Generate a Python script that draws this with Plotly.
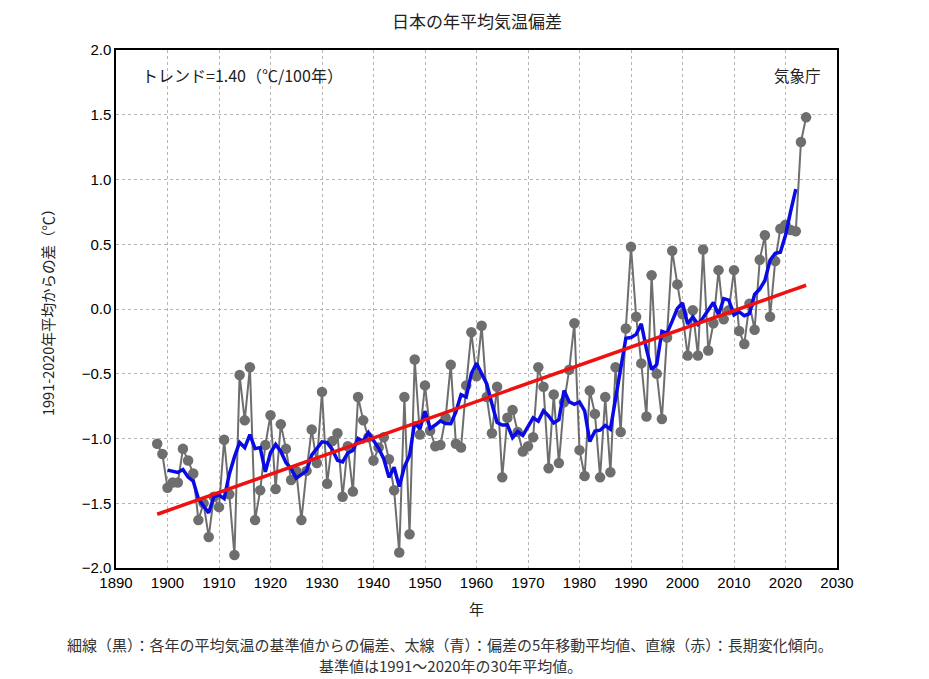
import numpy as np
import pandas as pd
import plotly.graph_objects as go

# 日本の年平均気温偏差 (1991-2020年平均からの差, ℃), 図から読み取り
years = list(range(1898, 2025))
anomaly = [
    -1.04, -1.12, -1.38, -1.34, -1.34, -1.08, -1.17, -1.27, -1.63, -1.50,  # 1898-1907
    -1.76, -1.45, -1.53, -1.01, -1.43, -1.90, -0.51, -0.86, -0.45, -1.63,  # 1908-1917
    -1.40, -1.05, -0.82, -1.39, -0.89, -1.08, -1.32, -1.25, -1.63, -1.25,  # 1918-1927
    -0.93, -1.19, -0.64, -1.35, -1.02, -0.96, -1.45, -1.06, -1.41, -0.68,  # 1928-1937
    -0.86, -0.99, -1.17, -1.07, -0.99, -1.16, -1.40, -1.88, -0.68, -1.74,  # 1938-1947
    -0.39, -0.97, -0.59, -0.94, -1.06, -1.05, -0.84, -0.43, -1.04, -1.07,  # 1948-1957
    -0.59, -0.18, -0.52, -0.13, -0.68, -0.96, -0.60, -1.30, -0.84, -0.78,  # 1958-1967
    -0.95, -1.10, -1.06, -0.99, -0.45, -0.60, -1.23, -0.66, -1.19, -0.72,  # 1968-1977
    -0.47, -0.11, -1.09, -1.29, -0.63, -0.81, -1.30, -0.68, -1.26, -0.45,  # 1978-1987
    -0.95, -0.15, 0.48, -0.06, -0.42, -0.83, 0.26, -0.50, -0.85, -0.22,    # 1988-1997
    0.45, 0.19, -0.04, -0.36, -0.01, -0.36, 0.46, -0.32, -0.11, 0.30,      # 1998-2007
    -0.08, -0.01, 0.30, -0.17, -0.27, 0.04, -0.16, 0.38, 0.57, -0.06,      # 2008-2017
    0.37, 0.62, 0.65, 0.61, 0.60, 1.29, 1.48,                              # 2018-2024
]

x_ticks = list(range(1890, 2031, 10))
y_ticks = [-2.0, -1.5, -1.0, -0.5, 0.0, 0.5, 1.0, 1.5, 2.0]

s = pd.Series(anomaly, index=years)
ma5 = s.rolling(5, center=True).mean()
slope, intercept = np.polyfit(years, anomaly, 1)
trend = [slope * y + intercept for y in years]

fig = go.Figure()

fig.add_trace(go.Scatter(
    x=years, y=anomaly, mode="lines+markers",
    line=dict(color="#6e6e6e", width=2),
    marker=dict(color="#6e6e6e", size=10.5),
    showlegend=False, hoverinfo="x+y",
))
fig.add_trace(go.Scatter(
    x=ma5.index, y=ma5.values, mode="lines",
    line=dict(color="#0a0ae6", width=3.5),
    showlegend=False,
))
fig.add_trace(go.Scatter(
    x=years, y=trend, mode="lines",
    line=dict(color="#f01010", width=3.5),
    showlegend=False,
))

jp = "Noto Sans CJK JP"

W, H = 929, 679
fig.update_layout(
    width=W, height=H,
    margin=dict(l=116, r=92, t=50, b=111),
    paper_bgcolor="white", plot_bgcolor="white",
    title=dict(text="日本の年平均気温偏差", x=477 / W, xanchor="center",
               y=1 - 22 / H, yanchor="middle",
               font=dict(family=jp, size=17, color="#222")),
    font=dict(family="Liberation Sans", size=15, color="black"),
)

axis_common = dict(
    showline=True, linecolor="black", linewidth=1.5, mirror=True,
    showgrid=True, gridcolor="#b4b4b4", griddash="dot", gridwidth=1,
    zeroline=False, ticks="", tickfont=dict(family="Liberation Sans", size=15, color="black"),
)
fig.update_xaxes(range=[1890, 2030], tickvals=x_ticks, **axis_common)
fig.update_yaxes(range=[-2, 2], tickvals=y_ticks, tickformat=".1f", **axis_common)

fig.add_annotation(text="トレンド=1.40（℃/100年）", xref="paper", yref="paper",
                   x=0.033, y=0.952, xanchor="left", yanchor="middle", showarrow=False,
                   font=dict(family=jp, size=16, color="#222"))
fig.add_annotation(text="気象庁", xref="paper", yref="paper",
                   x=0.98, y=0.952, xanchor="right", yanchor="middle", showarrow=False,
                   font=dict(family=jp, size=15.5, color="#222"))
fig.add_annotation(text="年", xref="paper", yref="paper",
                   x=0.5, y=(568 - 608) / 518, xanchor="center", yanchor="middle",
                   showarrow=False, font=dict(family=jp, size=15, color="#222"))
fig.add_annotation(text="1991-2020年平均からの差（℃）", xref="paper", yref="paper",
                   x=(47 - 116) / 721, y=0.5, xanchor="center", yanchor="middle",
                   textangle=-90, showarrow=False,
                   font=dict(family=jp, size=14.5, color="#222"))
fig.add_annotation(text="細線（黒）：各年の平均気温の基準値からの偏差、太線（青）：偏差の5年移動平均値、直線（赤）：長期変化傾向。",
                   xref="paper", yref="paper", x=(450 - 116) / 721, y=(568 - 644) / 518,
                   xanchor="center", yanchor="middle", showarrow=False,
                   font=dict(family=jp, size=15, color="#333"))
fig.add_annotation(text="基準値は1991〜2020年の30年平均値。",
                   xref="paper", yref="paper", x=(450 - 116) / 721, y=(568 - 665) / 518,
                   xanchor="center", yanchor="middle", showarrow=False,
                   font=dict(family=jp, size=15, color="#333"))

# drop the default 8px body margin so the figure fills the window exactly
fig.write_html("out.html", config={"displayModeBar": False},
               post_script="document.body.style.margin='0';document.body.style.overflow='hidden';")
